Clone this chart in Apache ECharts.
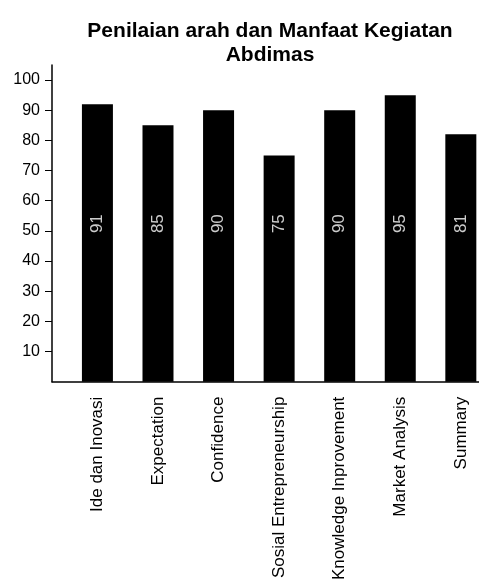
<!DOCTYPE html>
<html>
<head>
<meta charset="utf-8">
<script src="https://cdn.jsdelivr.net/npm/echarts@6/dist/echarts.min.js"></script>
<style>html,body{margin:0;padding:0;background:#fff}#c{width:479px;height:583px}</style>
</head>
<body>
<div id="c"></div>
<script>
const titleText = 'Penilaian arah dan Manfaat Kegiatan\nAbdimas';
const categories = ['Ide dan Inovasi', 'Expectation', 'Confidence', 'Sosial Entrepreneurship', 'Knowledge Inprovement', 'Market Analysis', 'Summary'];
const values = [92, 85, 90, 75, 90, 95, 82];
const labelTexts = ['91', '85', '90', '75', '90', '95', '81'];
const yTicks = [10, 20, 30, 40, 50, 60, 70, 80, 90, 100];
const labelLevel = 52.4;

const font = 'Liberation Sans, Arial, sans-serif';
const chart = echarts.init(document.getElementById('c'), null, {renderer: 'canvas'});
const idx = categories.map((_, i) => i);
chart.setOption({
  animation: false,
  title: {
    text: titleText, left: 265, textAlign: 'center', top: 14,
    textStyle: {fontFamily: font, fontWeight: 'bold', fontSize: 21, lineHeight: 24, color: '#000'}
  },
  grid: {left: 52, right: 0, top: 65, bottom: 198, containLabel: false},
  xAxis: {
    type: 'value', min: -0.75, max: 6.3,
    splitLine: {show: false},
    axisLine: {show: true, onZero: false, lineStyle: {color: '#000', width: 1.5}},
    axisTick: {show: false},
    axisLabel: {
      customValues: idx, rotate: 90, margin: 15, color: '#000', fontFamily: font, fontSize: 17,
      formatter: v => categories[Math.round(v)]
    }
  },
  yAxis: {
    type: 'value', min: 0, max: 105,
    splitLine: {show: false},
    axisLine: {show: true, onZero: false, lineStyle: {color: '#000', width: 1.5}},
    axisTick: {show: true, customValues: yTicks, length: 7, lineStyle: {color: '#000'}},
    axisLabel: {customValues: yTicks, margin: 12, color: '#000', fontFamily: font, fontSize: 16}
  },
  series: [
    {
      type: 'bar', barWidth: 31,
      itemStyle: {color: '#000'},
      data: values.map((v, i) => [i, v])
    },
    {
      type: 'scatter', symbolSize: 0, silent: true,
      data: idx.map(i => [i, labelLevel]),
      label: {
        show: true, position: 'inside', rotate: 90, color: '#fff', fontFamily: font, fontSize: 17,
        formatter: p => labelTexts[p.dataIndex]
      }
    }
  ]
});
</script>
</body>
</html>
